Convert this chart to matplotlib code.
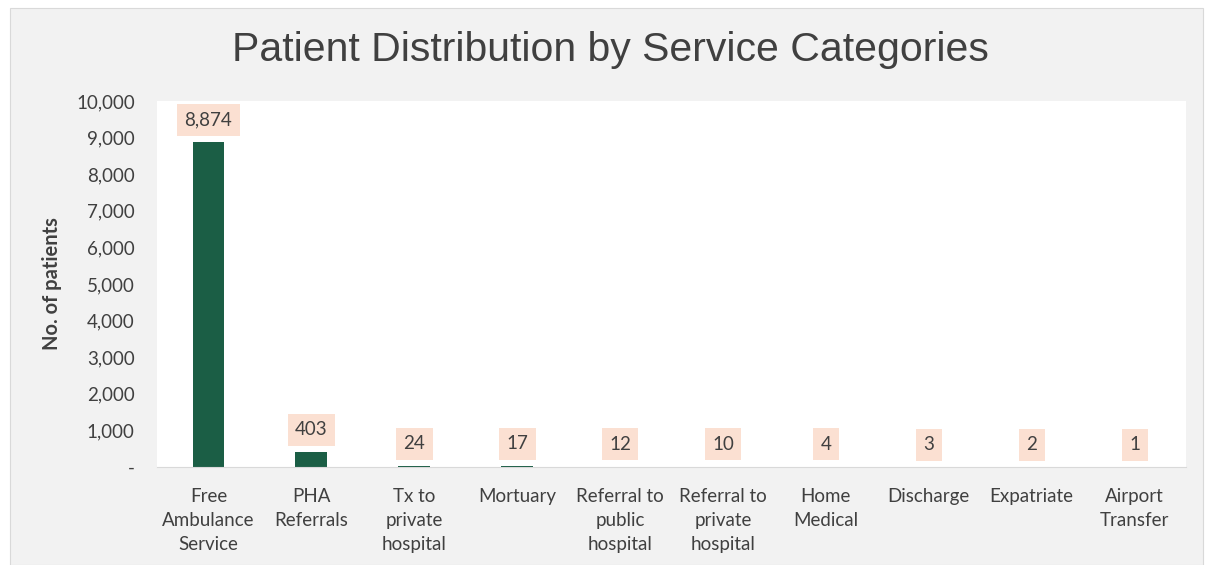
import matplotlib
matplotlib.use("Agg")
import matplotlib.pyplot as plt
from matplotlib.patches import Rectangle
from matplotlib.ticker import FuncFormatter

categories = ["Free\nAmbulance\nService", "PHA\nReferrals", "Tx to\nprivate\nhospital",
              "Mortuary", "Referral to\npublic\nhospital", "Referral to\nprivate\nhospital",
              "Home\nMedical", "Discharge", "Expatriate", "Airport\nTransfer"]
patients = [8874, 403, 24, 17, 12, 10, 4, 3, 2, 1]
y_ticks = [0, 1000, 2000, 3000, 4000, 5000, 6000, 7000, 8000, 9000, 10000]

BAR = "#1b5e45"
LABEL_BG = "#fbe0d2"
TEXT = "#404040"
PANEL = "#f2f2f2"
FONT = ["Lato", "DejaVu Sans"]

fig = plt.figure(figsize=(12.06, 5.65), dpi=100)
fig.patch.set_facecolor("white")
fig.patches.append(Rectangle((10 / 1206, 0), 1193 / 1206, 557 / 565,
                             transform=fig.transFigure, facecolor=PANEL,
                             edgecolor="#d9d9d9", linewidth=0.8, zorder=-5))

ax = fig.add_axes([157 / 1206, 98 / 565, 1029 / 1206, 366 / 565])
ax.set_zorder(2)
ax.set_facecolor("white")
x = range(len(categories))
ax.bar(x, patients, width=0.31, color=BAR, zorder=2)
ax.set_xlim(-0.5, len(categories) - 0.5)
ax.set_ylim(0, 10000)
ax.set_yticks(y_ticks)
ax.yaxis.set_major_formatter(FuncFormatter(lambda v, p: "-" if v == 0 else f"{int(v):,}"))
ax.set_xticks(list(x))
ax.set_xticklabels(categories, linespacing=1.5)
for lab in ax.get_xticklabels() + ax.get_yticklabels():
    lab.set_family(FONT)
    lab.set_fontsize(13.5)
    lab.set_color(TEXT)
ax.tick_params(axis="both", length=0)
ax.tick_params(axis="x", pad=15)
ax.tick_params(axis="y", pad=16)
for side in ["top", "right", "left"]:
    ax.spines[side].set_visible(False)
ax.spines["bottom"].set_color("#d9d9d9")

for xi, v in zip(x, patients):
    ax.annotate(f"{v:,}", (xi, v), xytext=(0, 10), textcoords="offset points",
                ha="center", va="bottom", fontsize=13.5, family=FONT, color=TEXT,
                bbox=dict(boxstyle="square,pad=0.4", facecolor=LABEL_BG, edgecolor="none"))

ax.set_ylabel("No. of patients", family=FONT, fontsize=14.5, fontweight="bold",
              color=TEXT, labelpad=10)
fig.text(0.506, 0.912, "Patient Distribution by Service Categories", ha="center", va="center",
         fontsize=29.5, color=TEXT, family=["Liberation Sans", "DejaVu Sans"])

fig.savefig("out.png", dpi=100, facecolor=fig.get_facecolor())
